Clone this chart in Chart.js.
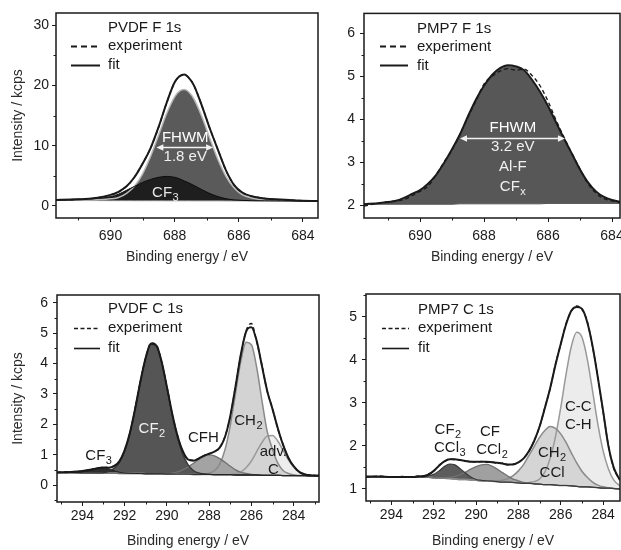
<!DOCTYPE html>
<html>
<head>
<meta charset="utf-8">
<script src="https://cdn.jsdelivr.net/npm/chart.js@4.4.1/dist/chart.umd.min.js"></script>
<style>
  html, body { margin: 0; padding: 0; background: #fff; }
  #wrap { position: relative; width: 621px; height: 550px; overflow: hidden; background: #fff; }
  canvas { position: absolute; }
</style>
</head>
<body>
<div id="wrap">
  <canvas id="c1" width="320" height="275" style="left:0px;top:0px"></canvas>
  <canvas id="c2" width="311" height="275" style="left:310px;top:0px"></canvas>
  <canvas id="c3" width="321" height="275" style="left:0px;top:275px"></canvas>
  <canvas id="c4" width="311" height="275" style="left:310px;top:275px"></canvas>
</div>
<script>
// ---------------- DATA ----------------
// Panel 1: PVDF F 1s
const P1_X = [691.7, 691.2, 690.8, 690.4, 690.0, 689.75, 689.5, 689.25, 689.0, 688.75, 688.5, 688.25, 688.0, 687.85, 687.7, 687.55, 687.4, 687.15, 686.9, 686.65, 686.4, 686.15, 685.9, 685.6, 685.2, 684.7, 684.2, 683.5];
const P1_BASE = [0.9, 0.9, 0.89, 0.89, 0.88, 0.88, 0.88, 0.87, 0.87, 0.87, 0.87, 0.86, 0.86, 0.86, 0.86, 0.86, 0.85, 0.85, 0.85, 0.85, 0.84, 0.84, 0.84, 0.83, 0.83, 0.82, 0.81, 0.8];
const P1_FIT = [1.0, 1.08, 1.17, 1.38, 1.83, 2.35, 3.25, 4.8, 7.0, 9.6, 13.1, 17.1, 20.5, 21.5, 21.8, 21.2, 20.0, 16.6, 12.8, 9.3, 5.9, 3.5, 2.25, 1.6, 1.25, 1.05, 0.9, 0.8];
const P1_EXP = [1.02, 1.06, 1.18, 1.36, 1.85, 2.33, 3.28, 4.82, 7.05, 9.6, 13.05, 17.1, 20.5, 21.45, 21.75, 21.2, 20.0, 16.6, 12.8, 9.35, 5.9, 3.5, 2.2, 1.62, 1.24, 1.05, 0.92, 0.82];
const P1_MAIN_H = [0.05, 0.07, 0.1, 0.15, 0.3, 0.52, 1.19, 2.42, 4.46, 7.37, 10.9, 14.47, 17.24, 18.18, 18.45, 18.0, 16.89, 13.93, 10.3, 6.85, 4.08, 2.18, 1.05, 0.48, 0.17, 0.1, 0.07, 0.05];
const P1_CF3_H = [0.05, 0.1, 0.21, 0.36, 0.67, 1.07, 1.72, 2.38, 3.03, 3.53, 3.88, 4.04, 3.89, 3.64, 3.29, 2.94, 2.55, 1.85, 1.2, 0.7, 0.36, 0.16, 0.08, 0.04, 0.02, 0.01, 0, 0];
const P1_XTICKS = [684, 686, 688, 690];
const P1_YTICKS = [0, 10, 20, 30];

// Panel 2: PMP7 F 1s
const P2_X = [691.75, 691.25, 690.75, 690.5, 690.25, 690.0, 689.75, 689.5, 689.25, 689.0, 688.75, 688.5, 688.25, 688.0, 687.75, 687.5, 687.25, 687.0, 686.75, 686.5, 686.25, 686.0, 685.75, 685.5, 685.25, 685.0, 684.75, 684.5, 684.25, 684.0, 683.75];
const P2_BASE = [2.02, 2.02, 2.02, 2.02, 2.02, 2.02, 2.02, 2.02, 2.02, 2.02, 2.03, 2.03, 2.03, 2.03, 2.03, 2.03, 2.03, 2.03, 2.03, 2.03, 2.03, 2.04, 2.04, 2.04, 2.04, 2.04, 2.04, 2.04, 2.04, 2.04, 2.04];
const P2_FIT = [2.02, 2.05, 2.1, 2.17, 2.26, 2.35, 2.5, 2.7, 2.98, 3.3, 3.65, 4.07, 4.46, 4.78, 5.03, 5.19, 5.26, 5.23, 5.14, 4.92, 4.64, 4.31, 3.93, 3.55, 3.19, 2.83, 2.53, 2.32, 2.19, 2.12, 2.08];
const P2_EXP = [1.98, 2.05, 2.1, 2.13, 2.22, 2.32, 2.44, 2.7, 3.0, 3.28, 3.65, 4.05, 4.43, 4.82, 5.0, 5.12, 5.18, 5.14, 5.17, 5.02, 4.78, 4.42, 3.98, 3.58, 3.2, 2.84, 2.5, 2.28, 2.15, 2.1, 2.06];
const P2_PEAK_H = [0, 0.02, 0.07, 0.13, 0.22, 0.31, 0.46, 0.66, 0.94, 1.26, 1.6, 2.02, 2.41, 2.73, 2.98, 3.14, 3.21, 3.18, 3.09, 2.87, 2.59, 2.25, 1.87, 1.49, 1.13, 0.77, 0.47, 0.26, 0.13, 0.06, 0.03];
const P2_XTICKS = [684, 686, 688, 690];
const P2_YTICKS = [2, 3, 4, 5, 6];

// Panel 3: PVDF C 1s
const P3_X = [295.2, 294.6, 294.0, 293.5, 293.25, 293.0, 292.75, 292.5, 292.25, 292.0, 291.75, 291.5, 291.25, 291.0, 290.75, 290.5, 290.25, 290.0, 289.75, 289.5, 289.25, 289.0, 288.75, 288.5, 288.25, 288.0, 287.75, 287.5, 287.25, 287.0, 286.75, 286.5, 286.25, 286.0, 285.75, 285.5, 285.25, 285.0, 284.75, 284.5, 284.25, 284.0, 283.75, 283.5, 283.2, 282.8];
const P3_BASE = [0.41, 0.41, 0.40, 0.40, 0.39, 0.39, 0.39, 0.39, 0.38, 0.38, 0.38, 0.38, 0.38, 0.37, 0.37, 0.37, 0.37, 0.36, 0.36, 0.36, 0.36, 0.36, 0.35, 0.35, 0.35, 0.35, 0.34, 0.34, 0.34, 0.34, 0.33, 0.33, 0.33, 0.33, 0.33, 0.32, 0.32, 0.32, 0.32, 0.31, 0.31, 0.31, 0.31, 0.31, 0.30, 0.30];
const P3_FIT = [0.42, 0.43, 0.46, 0.52, 0.56, 0.58, 0.57, 0.62, 0.78, 1.14, 1.72, 2.52, 3.42, 4.2, 4.66, 4.6, 4.07, 3.24, 2.36, 1.63, 1.12, 0.84, 0.80, 0.87, 0.96, 1.03, 1.1, 1.23, 1.58, 2.27, 3.25, 4.3, 5.05, 5.2, 4.75, 3.92, 3.1, 2.5, 1.87, 1.32, 0.9, 0.62, 0.44, 0.36, 0.32, 0.31];
const P3_EXP = [0.41, 0.44, 0.45, 0.53, 0.55, 0.59, 0.56, 0.63, 0.77, 1.15, 1.7, 2.53, 3.43, 4.2, 4.68, 4.62, 4.05, 3.25, 2.35, 1.64, 1.1, 0.85, 0.82, 0.86, 0.97, 1.02, 1.12, 1.22, 1.6, 2.25, 3.27, 4.28, 5.08, 5.32, 4.72, 3.95, 3.08, 2.52, 1.85, 1.34, 0.88, 0.63, 0.43, 0.35, 0.33, 0.3];
const P3_CF3_H = [0, 0, 0.03, 0.12, 0.16, 0.17, 0.13, 0.08, 0.04, 0.015, 0.005, 0, 0, 0, 0, 0, 0, 0, 0, 0, 0, 0, 0, 0, 0, 0, 0, 0, 0, 0, 0, 0, 0, 0, 0, 0, 0, 0, 0, 0, 0, 0, 0, 0, 0, 0];
const P3_CF2_H = [0, 0, 0, 0, 0.01, 0.02, 0.06, 0.16, 0.36, 0.74, 1.34, 2.14, 3.04, 3.82, 4.26, 4.21, 3.69, 2.86, 1.97, 1.2, 0.65, 0.31, 0.13, 0.05, 0.02, 0, 0, 0, 0, 0, 0, 0, 0, 0, 0, 0, 0, 0, 0, 0, 0, 0, 0, 0, 0, 0];
const P3_CFH_H = [0, 0, 0, 0, 0, 0, 0, 0, 0, 0, 0, 0, 0, 0, 0, 0, 0, 0.01, 0.03, 0.07, 0.14, 0.23, 0.36, 0.49, 0.59, 0.64, 0.62, 0.53, 0.41, 0.28, 0.17, 0.09, 0.05, 0.02, 0, 0, 0, 0, 0, 0, 0, 0, 0, 0, 0, 0];
const P3_CH2_H = [0, 0, 0, 0, 0, 0, 0, 0, 0, 0, 0, 0, 0, 0, 0, 0, 0, 0, 0, 0, 0, 0, 0, 0, 0.01, 0.04, 0.13, 0.35, 0.82, 1.62, 2.69, 3.74, 4.37, 4.29, 3.55, 2.46, 1.44, 0.85, 0.4, 0.17, 0.07, 0.03, 0, 0, 0, 0];
const P3_ADV_H = [0, 0, 0, 0, 0, 0, 0, 0, 0, 0, 0, 0, 0, 0, 0, 0, 0, 0, 0, 0, 0, 0, 0, 0, 0, 0, 0, 0, 0, 0.01, 0.04, 0.1, 0.24, 0.46, 0.77, 1.08, 1.29, 1.31, 1.13, 0.83, 0.52, 0.28, 0.12, 0.05, 0.01, 0];
const P3_XTICKS = [284, 286, 288, 290, 292, 294];
const P3_YTICKS = [0, 1, 2, 3, 4, 5, 6];

// Panel 4: PMP7 C 1s
const P4_X = [295.2, 294.6, 294.0, 293.5, 293.0, 292.75, 292.5, 292.25, 292.0, 291.75, 291.5, 291.25, 291.0, 290.75, 290.5, 290.25, 290.0, 289.75, 289.5, 289.25, 289.0, 288.75, 288.5, 288.25, 288.0, 287.75, 287.5, 287.25, 287.0, 286.75, 286.5, 286.25, 286.0, 285.75, 285.5, 285.25, 285.0, 284.75, 284.5, 284.25, 284.0, 283.75, 283.5, 283.2];
const P4_BASE = [1.28, 1.28, 1.28, 1.28, 1.28, 1.28, 1.27, 1.27, 1.26, 1.25, 1.25, 1.24, 1.23, 1.22, 1.22, 1.21, 1.2, 1.19, 1.19, 1.18, 1.17, 1.16, 1.16, 1.15, 1.14, 1.13, 1.13, 1.12, 1.11, 1.1, 1.1, 1.09, 1.08, 1.08, 1.07, 1.06, 1.05, 1.05, 1.04, 1.03, 1.02, 1.02, 1.01, 1.0];
const P4_FIT = [1.29, 1.29, 1.28, 1.28, 1.28, 1.29, 1.3, 1.33, 1.42, 1.54, 1.64, 1.69, 1.69, 1.67, 1.65, 1.63, 1.63, 1.63, 1.63, 1.62, 1.61, 1.59, 1.57, 1.57, 1.62, 1.71, 1.88, 2.12, 2.45, 2.88, 3.34, 3.88, 4.37, 4.82, 5.14, 5.23, 5.19, 4.88, 4.33, 3.6, 2.82, 2.0, 1.5, 1.2];
const P4_EXP = [1.27, 1.3, 1.27, 1.29, 1.27, 1.3, 1.29, 1.35, 1.41, 1.55, 1.63, 1.7, 1.68, 1.68, 1.64, 1.64, 1.62, 1.64, 1.62, 1.63, 1.6, 1.6, 1.56, 1.58, 1.61, 1.72, 1.87, 2.13, 2.44, 2.9, 3.33, 3.9, 4.36, 4.84, 5.13, 5.25, 5.17, 4.9, 4.31, 3.62, 2.8, 2.02, 1.48, 1.21];
const P4_CF2_H = [0, 0, 0, 0, 0, 0, 0.01, 0.03, 0.08, 0.17, 0.27, 0.34, 0.33, 0.25, 0.15, 0.07, 0.02, 0.01, 0, 0, 0, 0, 0, 0, 0, 0, 0, 0, 0, 0, 0, 0, 0, 0, 0, 0, 0, 0, 0, 0, 0, 0, 0, 0];
const P4_CF_H = [0, 0, 0, 0, 0, 0, 0, 0, 0, 0.01, 0.01, 0.03, 0.06, 0.11, 0.17, 0.25, 0.32, 0.37, 0.38, 0.35, 0.29, 0.22, 0.14, 0.08, 0.05, 0.02, 0.01, 0, 0, 0, 0, 0, 0, 0, 0, 0, 0, 0, 0, 0, 0, 0, 0, 0];
const P4_CH2_H = [0, 0, 0, 0, 0, 0, 0, 0, 0, 0, 0, 0, 0, 0, 0, 0, 0, 0, 0, 0, 0.02, 0.04, 0.08, 0.16, 0.28, 0.44, 0.65, 0.87, 1.09, 1.26, 1.35, 1.32, 1.2, 1.0, 0.77, 0.55, 0.36, 0.22, 0.12, 0.06, 0.03, 0.01, 0, 0];
const P4_CC_H = [0, 0, 0, 0, 0, 0, 0, 0, 0, 0, 0, 0, 0, 0, 0, 0, 0, 0, 0, 0, 0, 0, 0, 0, 0, 0, 0.02, 0.05, 0.12, 0.29, 0.61, 1.12, 1.81, 2.58, 3.24, 3.58, 3.48, 2.98, 2.25, 1.49, 0.87, 0.45, 0.2, 0.07];
const P4_XTICKS = [284, 286, 288, 290, 292, 294];
const P4_YTICKS = [1, 2, 3, 4, 5];

// ---------------- RENDERING ----------------
const INK = '#1a1a1a';
const FAMILY = '"Liberation Sans", Arial, Helvetica, sans-serif';
Chart.defaults.font.family = FAMILY;
Chart.defaults.font.size = 14;
Chart.defaults.color = INK;

function pts(X, Y) { return X.map((x, i) => ({ x: x, y: Y[i] })); }
function onTop(B, H) { return B.map((b, i) => b + H[i]); }

function drawLabel(ctx, L, xs, ys) {
  const px = xs.getPixelForValue(L.x), py = ys.getPixelForValue(L.y);
  ctx.font = '15px ' + FAMILY;
  const w1 = ctx.measureText(L.t).width;
  let w2 = 0;
  if (L.s) { ctx.font = '11px ' + FAMILY; w2 = ctx.measureText(L.s).width + 0.5; }
  const x0 = px - (w1 + w2) / 2;
  ctx.fillStyle = L.c; ctx.textAlign = 'left'; ctx.textBaseline = 'middle';
  ctx.font = '15px ' + FAMILY; ctx.fillText(L.t, x0, py);
  if (L.s) { ctx.font = '11px ' + FAMILY; ctx.fillText(L.s, x0 + w1 + 0.5, py + 5); }
}

function drawArrow(ctx, A, xs, ys) {
  const x0 = xs.getPixelForValue(A.x0), x1 = xs.getPixelForValue(A.x1);
  const py = Math.round(ys.getPixelForValue(A.y)) + 0.5;
  ctx.setLineDash([]);
  ctx.strokeStyle = '#f2f2f2'; ctx.fillStyle = '#f2f2f2'; ctx.lineWidth = 1.5;
  ctx.beginPath(); ctx.moveTo(x0 + 4, py); ctx.lineTo(x1 - 4, py); ctx.stroke();
  ctx.beginPath(); ctx.moveTo(x0, py); ctx.lineTo(x0 + 7, py - 3.2); ctx.lineTo(x0 + 7, py + 3.2); ctx.closePath(); ctx.fill();
  ctx.beginPath(); ctx.moveTo(x1, py); ctx.lineTo(x1 - 7, py - 3.2); ctx.lineTo(x1 - 7, py + 3.2); ctx.closePath(); ctx.fill();
}

function decorPlugin(P) {
  return {
    id: 'decor',
    afterDraw(chart) {
      const ctx = chart.ctx, a = chart.chartArea, xs = chart.scales.x, ys = chart.scales.y;
      ctx.save();
      // minor ticks
      ctx.setLineDash([]);
      ctx.strokeStyle = INK; ctx.lineWidth = 1;
      ctx.beginPath();
      P.xMinor.forEach(v => {
        const p = Math.round(xs.getPixelForValue(v)) + 0.5;
        if (p <= a.left + 1 || p >= a.right - 1) return;
        ctx.moveTo(p, a.bottom); ctx.lineTo(p, a.bottom + 2.5);
      });
      P.yMinor.forEach(v => {
        const p = Math.round(ys.getPixelForValue(v)) + 0.5;
        if (p <= a.top + 1 || p >= a.bottom - 1) return;
        ctx.moveTo(a.left, p); ctx.lineTo(a.left - 2.5, p);
      });
      ctx.stroke();
      // frame
      ctx.lineWidth = 1.5; ctx.strokeStyle = INK;
      ctx.strokeRect(a.left, a.top, a.right - a.left, a.bottom - a.top);
      // arrow + labels
      if (P.arrow) drawArrow(ctx, P.arrow, xs, ys);
      P.labels.forEach(L => drawLabel(ctx, L, xs, ys));
      // legend
      const g = P.legend;
      ctx.fillStyle = INK; ctx.textAlign = 'left'; ctx.textBaseline = 'middle';
      ctx.font = '15px ' + FAMILY;
      ctx.fillText(g.title, a.left + g.tx, a.top + g.r0);
      ctx.fillText('experiment', a.left + g.tx, a.top + g.r1);
      ctx.fillText('fit', a.left + g.tx, a.top + g.r2);
      ctx.strokeStyle = INK; ctx.lineWidth = g.lw;
      ctx.setLineDash(g.dash);
      ctx.beginPath(); ctx.moveTo(a.left + g.l0, Math.round(a.top + g.r1) + 0.5); ctx.lineTo(a.left + g.l1, Math.round(a.top + g.r1) + 0.5); ctx.stroke();
      ctx.setLineDash([]);
      ctx.beginPath(); ctx.moveTo(a.left + g.l0, Math.round(a.top + g.r2) + 0.5); ctx.lineTo(a.left + g.l1, Math.round(a.top + g.r2) + 0.5); ctx.stroke();
      ctx.restore();
    }
  };
}

function panel(id, P) {
  const ds = [];
  ds.push({ label: 'experiment', data: pts(P.X, P.exp), borderColor: INK, borderWidth: 1.4, borderDash: P.expDash, fill: false });
  ds.push({ label: 'fit', data: pts(P.X, P.fit), borderColor: INK, borderWidth: 2, fill: false });
  P.comps.forEach(c => ds.push({
    label: c.name, data: pts(P.X, onTop(P.base, c.h)), borderColor: c.line, borderWidth: c.lw,
    backgroundColor: c.color, _toBase: true
  }));
  ds.push({ label: 'background', data: pts(P.X, P.base), borderColor: P.baseLine, borderWidth: 1, fill: false });
  const bi = ds.length - 1;
  ds.forEach(d => { if (d._toBase) { d.fill = bi; delete d._toBase; } });

  return new Chart(document.getElementById(id), {
    type: 'line',
    data: { datasets: ds },
    options: {
      responsive: false, animation: false, devicePixelRatio: 1, events: [],
      layout: { padding: { top: P.top, right: P.right, left: 0, bottom: 0 } },
      elements: { point: { radius: 0, hoverRadius: 0 }, line: { cubicInterpolationMode: 'monotone', borderJoinStyle: 'round' } },
      plugins: { legend: { display: false }, tooltip: { enabled: false }, filler: { drawTime: 'beforeDatasetsDraw', propagate: false } },
      scales: {
        x: {
          type: 'linear', reverse: true, min: P.xmin, max: P.xmax,
          afterBuildTicks: s => { s.ticks = P.xTicks.map(v => ({ value: v })); },
          afterFit: s => { s.height = P.xh; },
          ticks: { color: INK, font: { size: 14 }, padding: P.xpad, maxRotation: 0, autoSkip: false },
          grid: { display: true, drawOnChartArea: false, drawTicks: true, tickLength: 4, tickColor: INK, tickWidth: 1 },
          border: { display: false },
          title: { display: true, text: 'Binding energy / eV', color: '#2a2a2a', font: { size: 14 }, padding: { top: 0, bottom: P.xtp } }
        },
        y: {
          type: 'linear', min: P.ymin, max: P.ymax,
          afterBuildTicks: s => { s.ticks = P.yTicks.map(v => ({ value: v })); },
          afterFit: s => { s.width = P.yw; },
          ticks: { color: INK, font: { size: 14 }, padding: P.ypad, autoSkip: false },
          grid: { display: true, drawOnChartArea: false, drawTicks: true, tickLength: 4, tickColor: INK, tickWidth: 1 },
          border: { display: false },
          title: { display: P.ytitle, text: 'Intensity / kcps', color: '#2a2a2a', font: { size: 14 }, padding: { top: 9.9, bottom: 0 } }
        }
      }
    },
    plugins: [decorPlugin(P)]
  });
}

panel('c1', {
  X: P1_X, base: P1_BASE, fit: P1_FIT, exp: P1_EXP, expDash: [4, 3],
  comps: [
    { name: 'CF3', h: P1_CF3_H, color: '#1e1e1e', line: '#0c0c0c', lw: 1 },
    { name: 'CF2', h: P1_MAIN_H, color: '#5a5a5a', line: '#b8b8b8', lw: 1.5 }
  ],
  baseLine: '#8c8c8c',
  xmin: 683.53, xmax: 691.7, ymin: -2, ymax: 32,
  xTicks: P1_XTICKS, xMinor: [685, 687, 689, 691], yTicks: P1_YTICKS, yMinor: [5, 15, 25],
  top: 13, right: 2, xh: 57, yw: 56, xpad: 6, ypad: 3, xtp: 9.6, ytitle: true,
  legend: { title: 'PVDF F 1s', tx: 52, r0: 15, r1: 33, r2: 52, l0: 15, l1: 44, dash: [6, 4], lw: 2 },
  labels: [
    { t: 'FHWM', x: 687.67, y: 11.27, c: '#ffffff' },
    { t: '1.8 eV', x: 687.67, y: 8.12, c: '#f0f0f0' },
    { t: 'CF', s: '3', x: 688.29, y: 2.15, c: '#e6e6e6' }
  ],
  arrow: { x0: 688.57, x1: 686.8, y: 9.83 }
});

panel('c2', {
  X: P2_X, base: P2_BASE, fit: P2_FIT, exp: P2_EXP, expDash: [4, 3],
  comps: [
    { name: 'Al-F / CFx', h: P2_PEAK_H, color: '#575757', line: '#6a6a6a', lw: 1 }
  ],
  baseLine: '#575757',
  xmin: 683.75, xmax: 691.75, ymin: 1.7, ymax: 6.465,
  xTicks: P2_XTICKS, xMinor: [685, 687, 689, 691], yTicks: P2_YTICKS, yMinor: [2.5, 3.5, 4.5, 5.5],
  top: 13, right: 1, xh: 57, yw: 54, xpad: 6, ypad: 5, xtp: 9.6, ytitle: false,
  legend: { title: 'PMP7 F 1s', tx: 53, r0: 15, r1: 33, r2: 52, l0: 16, l1: 44, dash: [6, 4], lw: 2 },
  labels: [
    { t: 'FHWM', x: 687.1, y: 3.79, c: '#ffffff' },
    { t: '3.2 eV', x: 687.1, y: 3.36, c: '#f0f0f0' },
    { t: 'Al-F', x: 687.1, y: 2.89, c: '#f0f0f0' },
    { t: 'CF', s: 'x', x: 687.1, y: 2.43, c: '#f0f0f0' }
  ],
  arrow: { x0: 688.75, x1: 685.47, y: 3.57 }
});

panel('c3', {
  X: P3_X, base: P3_BASE, fit: P3_FIT, exp: P3_EXP, expDash: [4, 3],
  comps: [
    { name: 'CF3', h: P3_CF3_H, color: '#2e2e2e', line: '#222222', lw: 1 },
    { name: 'CF2', h: P3_CF2_H, color: '#555555', line: '#333333', lw: 1.3 },
    { name: 'CFH', h: P3_CFH_H, color: '#a3a3a3', line: '#707070', lw: 1.3 },
    { name: 'CH2', h: P3_CH2_H, color: '#d3d3d3', line: '#8a8a8a', lw: 1.5 },
    { name: 'adv. C', h: P3_ADV_H, color: '#ededed', line: '#9a9a9a', lw: 1.5 }
  ],
  baseLine: '#2a2a2a',
  xmin: 282.8, xmax: 295.2, ymin: -0.56, ymax: 6.26,
  xTicks: P3_XTICKS, xMinor: [283, 285, 287, 289, 291, 293, 295], yTicks: P3_YTICKS, yMinor: [-0.5, 0.5, 1.5, 2.5, 3.5, 4.5, 5.5],
  top: 20, right: 2, xh: 48, yw: 57, xpad: 2, ypad: 5, xtp: 0, ytitle: true,
  legend: { title: 'PVDF C 1s', tx: 51, r0: 14, r1: 33, r2: 53, l0: 17, l1: 43, dash: [4, 2.5], lw: 1.6 },
  labels: [
    { t: 'CF', s: '3', x: 293.23, y: 0.96, c: INK },
    { t: 'CF', s: '2', x: 290.71, y: 1.85, c: '#f2f2f2' },
    { t: 'CFH', x: 288.27, y: 1.55, c: INK },
    { t: 'CH', s: '2', x: 286.14, y: 2.12, c: INK },
    { t: 'adv.', x: 284.96, y: 1.1, c: INK },
    { t: 'C', x: 284.96, y: 0.5, c: INK }
  ]
});

panel('c4', {
  X: P4_X, base: P4_BASE, fit: P4_FIT, exp: P4_EXP, expDash: [4, 3],
  comps: [
    { name: 'CF2 CCl3', h: P4_CF2_H, color: '#5c5c5c', line: '#3a3a3a', lw: 1.2 },
    { name: 'CF CCl2', h: P4_CF_H, color: '#a0a0a0', line: '#727272', lw: 1.3 },
    { name: 'CH2 CCl', h: P4_CH2_H, color: '#d5d5d5', line: '#8a8a8a', lw: 1.5 },
    { name: 'C-C C-H', h: P4_CC_H, color: '#ececec', line: '#999999', lw: 1.5 }
  ],
  baseLine: '#555555',
  xmin: 283.2, xmax: 295.2, ymin: 0.72, ymax: 5.53,
  xTicks: P4_XTICKS, xMinor: [283, 285, 287, 289, 291, 293, 295], yTicks: P4_YTICKS, yMinor: [1.5, 2.5, 3.5, 4.5, 5.5],
  top: 19, right: 1, xh: 49, yw: 56, xpad: 2, ypad: 5, xtp: 0, ytitle: false,
  legend: { title: 'PMP7 C 1s', tx: 52, r0: 16, r1: 34, r2: 54, l0: 16, l1: 43, dash: [4, 2.5], lw: 1.6 },
  labels: [
    { t: 'CF', s: '2', x: 291.33, y: 2.37, c: INK },
    { t: 'CCl', s: '3', x: 291.24, y: 1.95, c: INK },
    { t: 'CF', x: 289.34, y: 2.32, c: INK },
    { t: 'CCl', s: '2', x: 289.25, y: 1.9, c: INK },
    { t: 'CH', s: '2', x: 286.41, y: 1.84, c: INK },
    { t: 'CCl', x: 286.41, y: 1.37, c: INK },
    { t: 'C-C', x: 285.17, y: 2.9, c: INK },
    { t: 'C-H', x: 285.17, y: 2.49, c: INK }
  ]
});
</script>
</body>
</html>
